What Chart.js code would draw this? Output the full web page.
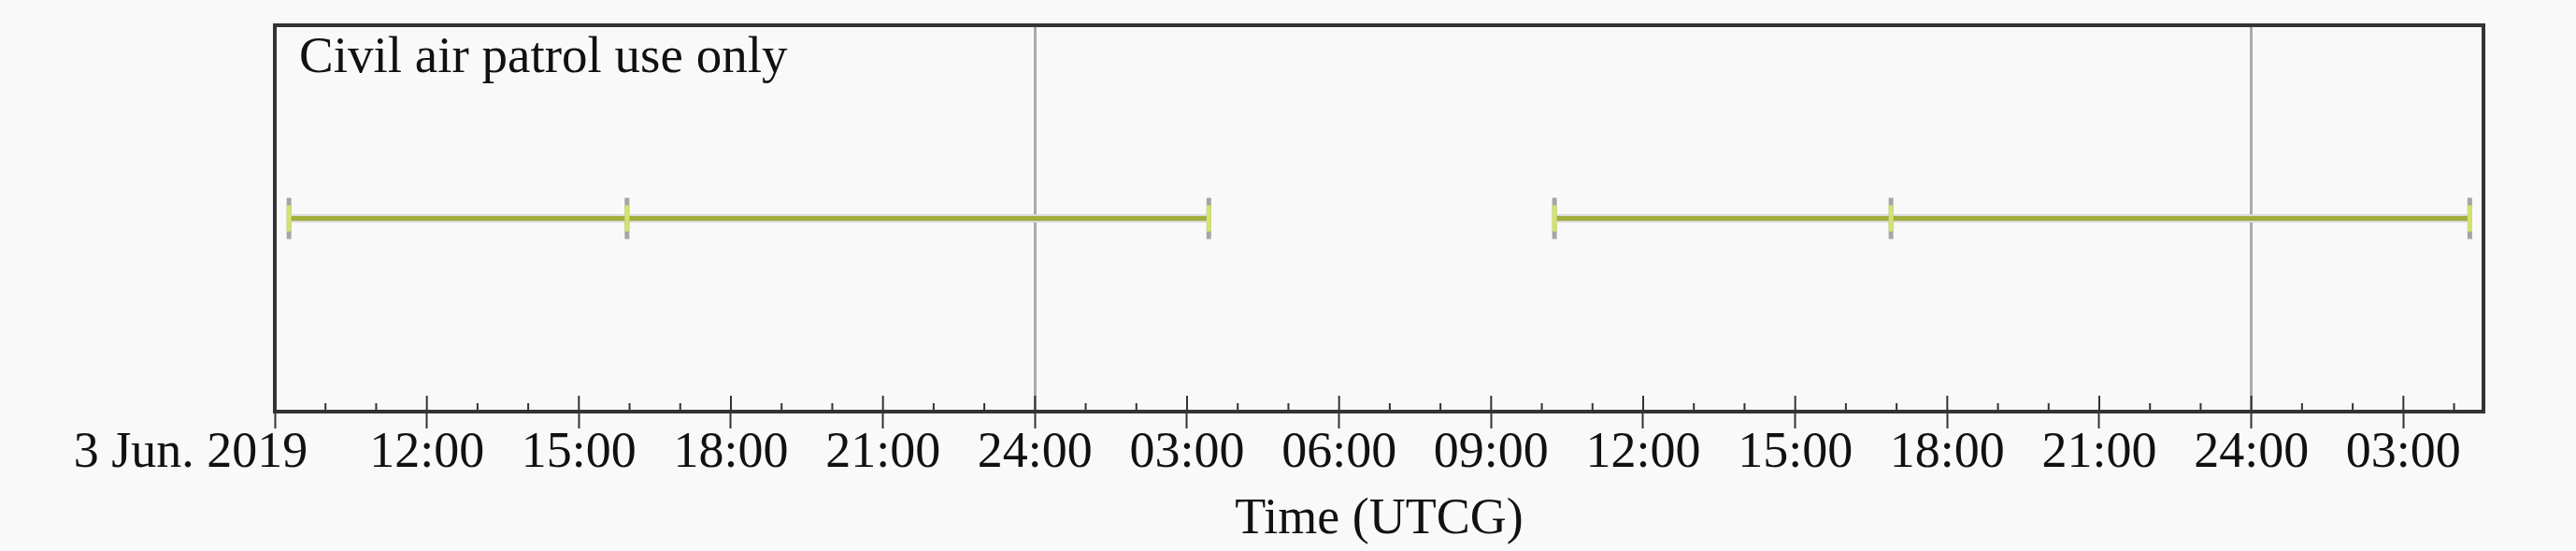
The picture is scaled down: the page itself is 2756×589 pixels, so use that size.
<!DOCTYPE html>
<html>
<head>
<meta charset="utf-8">
<title>Civil air patrol use only</title>
<script src="https://cdn.jsdelivr.net/npm/chart.js@4.4.1/dist/chart.umd.min.js"></script>
<style>
  html, body { margin: 0; padding: 0; background: #f9f9f9; }
  canvas { display: block; }
</style>
</head>
<body>
<canvas id="accessChart" width="2756" height="589"></canvas>
<script>
  // hours counted from 3 Jun. 2019 00:00 UTCG
  const axisStart = 9;
  const axisEnd = 52.58;
  const accessStart = [9.28, 34.25];
  const accessSplit = [15.95, 40.89];
  const accessEnd = [27.43, 52.31];
  const dayLines = [24, 48];
  const firstTickLabel = '3 Jun. 2019';
  const annotation = 'Civil air patrol use only';

  const FONT = '"Liberation Serif", "Times New Roman", serif';

  // line points, with a null after each access so the segments do not join
  const linePoints = [];
  const capPoints = [];
  accessStart.forEach(function(s, i) {
    linePoints.push({ x: s, y: 0 }, { x: accessSplit[i], y: 0 }, { x: accessEnd[i], y: 0 }, { x: accessEnd[i], y: null });
    capPoints.push({ x: s, y: 0 }, { x: accessSplit[i], y: 0 }, { x: accessEnd[i], y: 0 });
  });

  function hourLabel(v) {
    if (v === axisStart) return '';
    if (v % 3 !== 0) return '';
    const h = v % 24 === 0 ? 24 : v % 24;
    return String(h).padStart(2, '0') + ':00';
  }

  // frame, inner tick marks, first date label and the note
  const frameAndTicks = {
    id: 'frameAndTicks',
    afterDraw(chart) {
      const ctx = chart.ctx;
      const a = chart.chartArea;
      const x = chart.scales.x;
      ctx.save();
      ctx.strokeStyle = '#333';
      ctx.lineWidth = 2;
      x.ticks.forEach(function(t) {
        const px = x.getPixelForValue(t.value);
        const len = t.value % 3 === 0 ? 17 : 9;
        ctx.beginPath();
        ctx.moveTo(px, a.bottom);
        ctx.lineTo(px, a.bottom - len);
        ctx.stroke();
      });
      ctx.lineWidth = 4;
      ctx.strokeRect(a.left, a.top, a.right - a.left, a.bottom - a.top);

      ctx.fillStyle = '#111';
      ctx.font = '54px ' + FONT;
      ctx.textAlign = 'center';
      ctx.textBaseline = 'middle';
      ctx.fillText(firstTickLabel, x.getPixelForValue(axisStart) - 90, x.top + 18 + 27);
      ctx.textAlign = 'left';
      ctx.textBaseline = 'alphabetic';
      ctx.font = '55px ' + FONT;
      ctx.fillText(annotation, a.left + 26, 77);
      ctx.restore();
    }
  };

  // first dataset is drawn on top
  new Chart(document.getElementById('accessChart'), {
    type: 'scatter',
    data: {
      datasets: [
        {
          data: capPoints,
          showLine: false,
          pointStyle: 'line',
          rotation: 90,
          radius: 14,
          borderWidth: 5,
          borderColor: '#d3e270'
        },
        {
          data: capPoints,
          showLine: false,
          pointStyle: 'line',
          rotation: 90,
          radius: 22,
          borderWidth: 5,
          borderColor: '#a5a5a5'
        },
        {
          data: linePoints,
          showLine: true,
          borderColor: '#a0ae3a',
          borderWidth: 5,
          pointRadius: 0
        },
        {
          data: linePoints,
          showLine: true,
          borderColor: '#dadada',
          borderWidth: 9,
          pointRadius: 0
        }
      ]
    },
    options: {
      responsive: false,
      animation: false,
      devicePixelRatio: 1,
      layout: { padding: { left: 294, right: 99, top: 10, bottom: 0 } },
      plugins: {
        legend: { display: false },
        tooltip: { enabled: false }
      },
      scales: {
        x: {
          type: 'linear',
          min: axisStart,
          max: axisEnd,
          afterBuildTicks: function(scale) {
            const ticks = [];
            for (let h = Math.ceil(axisStart); h <= Math.floor(axisEnd); h++) ticks.push({ value: h });
            scale.ticks = ticks;
          },
          afterFit: function(scale) { scale.height = 149; },
          border: { display: false },
          grid: {
            drawOnChartArea: true,
            color: function(c) { return c.tick && dayLines.includes(c.tick.value) ? '#ababab' : 'rgba(0,0,0,0)'; },
            lineWidth: 3,
            tickColor: function(c) { return c.tick && c.tick.value % 3 === 0 ? '#333' : 'rgba(0,0,0,0)'; },
            tickWidth: 2,
            tickLength: 18
          },
          ticks: {
            autoSkip: false,
            maxRotation: 0,
            padding: 0,
            color: '#111',
            font: { family: FONT, size: 54, lineHeight: 1 },
            callback: hourLabel
          },
          title: {
            display: true,
            text: 'Time (UTCG)',
            color: '#111',
            font: { family: FONT, size: 54 },
            padding: { top: 0, bottom: 1 }
          }
        },
        y: {
          display: false,
          min: -1,
          max: 1
        }
      }
    },
    plugins: [frameAndTicks]
  });
</script>
</body>
</html>
